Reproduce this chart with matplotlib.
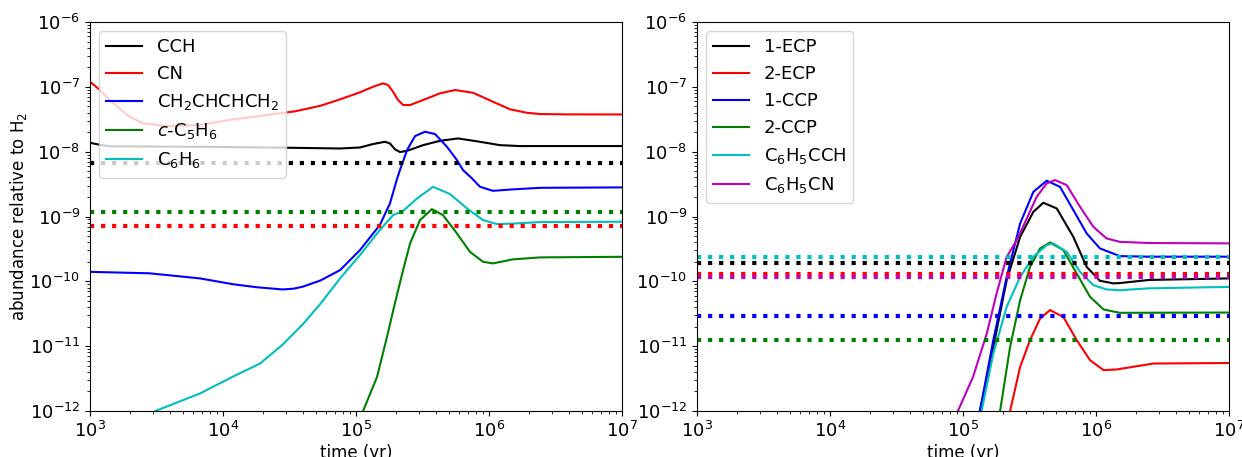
import matplotlib
matplotlib.use("Agg")
import matplotlib.pyplot as plt

# ---- left panel: model abundances (time in yr, abundance rel. to H2) ----
cch_t = [1e3, 1.2e3, 1.4e3, 3e3, 1e4, 3e4, 7.6e4, 1.07e5, 1.34e5, 1.65e5, 1.8e5,
         1.96e5, 2.14e5, 2.42e5, 3.19e5, 4.28e5, 5.85e5, 8.56e5, 1.21e6, 1.71e6,
         3e6, 1e7]
cch_y = [1.37e-8, 1.27e-8, 1.21e-8, 1.2e-8, 1.18e-8, 1.15e-8, 1.12e-8, 1.16e-8,
         1.31e-8, 1.42e-8, 1.34e-8, 1.09e-8, 9.87e-9, 1.03e-8, 1.26e-8, 1.47e-8,
         1.6e-8, 1.42e-8, 1.26e-8, 1.22e-8, 1.22e-8, 1.22e-8]

cn_t = [1e3, 1.19e3, 1.41e3, 1.9e3, 2.5e3, 3.8e3, 6.7e3, 1.19e4, 2.14e4, 3.5e4,
        5.4e4, 7.59e4, 1.07e5, 1.34e5, 1.59e5, 1.74e5, 1.9e5, 2.07e5, 2.26e5,
        2.55e5, 3.19e5, 4.28e5, 5.55e5, 7.58e5, 1.07e6, 1.44e6, 1.93e6, 2.42e6,
        4e6, 1e7]
cn_y = [1.2e-7, 8.9e-8, 6.25e-8, 3.67e-8, 2.73e-8, 2.48e-8, 2.58e-8, 3.15e-8,
        3.67e-8, 4.2e-8, 5.1e-8, 6.41e-8, 8.22e-8, 1.0e-7, 1.13e-7, 1.07e-7,
        8.4e-8, 6.25e-8, 5.24e-8, 5.24e-8, 6.25e-8, 7.94e-8, 8.93e-8, 8.11e-8,
        5.89e-8, 4.5e-8, 3.98e-8, 3.8e-8, 3.76e-8, 3.75e-8]

butad_t = [1e3, 2.8e3, 6.7e3, 1.2e4, 1.8e4, 2.8e4, 3.4e4, 4.0e4, 5.4e4, 7.59e4,
           1.07e5, 1.51e5, 1.8e5, 2.03e5, 2.14e5, 2.42e5, 2.78e5, 3.3e5, 3.93e5,
           4.83e5, 5.74e5, 6.38e5, 7.45e5, 8.56e5, 1.07e6, 1.51e6, 2.42e6, 1e7]
butad_y = [1.4e-10, 1.33e-10, 1.11e-10, 9.0e-11, 8.1e-11, 7.5e-11, 7.7e-11,
           8.3e-11, 1.03e-10, 1.49e-10, 3.03e-10, 7.36e-10, 1.59e-9, 3.74e-9,
           5.2e-9, 1.06e-8, 1.74e-8, 2.03e-8, 1.87e-8, 1.19e-8, 7.41e-9, 5.2e-9,
           3.87e-9, 2.87e-9, 2.49e-9, 2.62e-9, 2.77e-9, 2.81e-9]

c5h6_t = [1.13e5, 1.44e5, 1.71e5, 1.96e5, 2.26e5, 2.55e5, 3.03e5, 3.72e5, 4.51e5,
          5.74e5, 7.19e5, 9.02e5, 1.07e6, 1.51e6, 2.42e6, 1e7]
c5h6_y = [1.0e-12, 3.36e-12, 1.39e-11, 4.56e-11, 1.49e-10, 3.85e-10, 8.8e-10,
          1.3e-9, 1.05e-9, 5.48e-10, 2.85e-10, 2.0e-10, 1.89e-10, 2.18e-10,
          2.34e-10, 2.39e-10]

c6h6_t = [3.1e3, 6.7e3, 1.19e4, 1.9e4, 2.8e4, 4.0e4, 5.4e4, 7.59e4, 1.07e5,
          1.51e5, 1.9e5, 2.26e5, 2.88e5, 3.8e5, 5.09e5, 6.84e5, 9.02e5, 1.15e6,
          1.62e6, 2.42e6, 1e7]
c6h6_y = [1.0e-12, 1.86e-12, 3.4e-12, 5.4e-12, 1.05e-11, 2.2e-11, 4.5e-11,
          1.11e-10, 2.54e-10, 6.17e-10, 1.05e-9, 1.22e-9, 1.9e-9, 2.87e-9,
          2.22e-9, 1.33e-9, 8.8e-10, 7.63e-10, 7.83e-10, 8.2e-10, 8.3e-10]

left_labels = ["CCH", "CN", r"CH$_2$CHCHCH$_2$", r"$c$-C$_5$H$_6$", r"C$_6$H$_6$"]
left_colors = ["k", "r", "b", "g", "c"]
# observed values (dotted)
left_obs = [6.8e-9, 1.16e-9, 7.1e-10]
left_obs_colors = ["k", "g", "r"]

# ---- right panel ----
ecp1_t = [1.34e5, 1.69e5, 2.13e5, 2.69e5, 3.38e5, 4.02e5, 5.07e5, 6.75e5, 8.51e5,
          1.07e6, 1.35e6, 1.51e6, 2.5e6, 1e7]
ecp1_y = [1.0e-12, 9.75e-12, 1.04e-10, 4.86e-10, 1.18e-9, 1.63e-9, 1.33e-9,
          4.86e-10, 1.67e-10, 1.02e-10, 9.3e-11, 9.4e-11, 1.05e-10, 1.11e-10]

ecp2_t = [2.26e5, 2.69e5, 3.19e5, 3.8e5, 4.51e5, 5.68e5, 7.16e5, 9.02e5, 1.14e6,
          1.43e6, 2.7e6, 1e7]
ecp2_y = [1.0e-12, 4.8e-12, 1.24e-11, 2.67e-11, 3.6e-11, 2.83e-11, 1.24e-11,
          6.08e-12, 4.27e-12, 4.37e-12, 5.4e-12, 5.5e-12]

ccp1_t = [1.34e5, 1.69e5, 2.13e5, 2.69e5, 3.38e5, 4.26e5, 5.36e5, 6.75e5, 8.51e5,
          1.07e6, 1.51e6, 2.5e6, 1e7]
ccp1_y = [1.0e-12, 1.24e-11, 1.17e-10, 7.83e-10, 2.4e-9, 3.56e-9, 2.87e-9,
          1.26e-9, 5.48e-10, 3.22e-10, 2.45e-10, 2.4e-10, 2.4e-10]

ccp2_t = [1.9e5, 2.26e5, 2.69e5, 3.19e5, 3.8e5, 4.51e5, 5.68e5, 7.16e5, 9.02e5,
          1.14e6, 1.51e6, 1e7]
ccp2_y = [1.0e-12, 9.75e-12, 5.13e-11, 1.67e-10, 3.22e-10, 3.98e-10, 3.03e-10,
          1.32e-10, 5.77e-11, 3.68e-11, 3.27e-11, 3.3e-11]

phcch_t = [1.38e5, 1.69e5, 2.13e5, 2.69e5, 3.38e5, 4.26e5, 4.78e5, 6.02e5, 7.59e5,
           9.55e5, 1.2e6, 1.51e6, 2.5e6, 1e7]
phcch_y = [1.0e-12, 7.7e-12, 4.04e-11, 1.17e-10, 2.39e-10, 3.62e-10, 3.85e-10,
           2.85e-10, 1.4e-10, 8.73e-11, 7.5e-11, 7.3e-11, 7.8e-11, 8.2e-11]

phcn_t = [9.16e4, 1.19e5, 1.51e5, 1.79e5, 2.13e5, 2.54e5, 3.02e5, 3.58e5, 4.26e5,
          4.92e5, 6.02e5, 7.59e5, 9.55e5, 1.2e6, 1.51e6, 2.5e6, 1e7]
phcn_y = [1.0e-12, 3.36e-12, 1.57e-11, 6.5e-11, 2.39e-10, 4.33e-10, 9.35e-10,
          2.01e-9, 3.24e-9, 3.65e-9, 3.05e-9, 1.41e-9, 6.93e-10, 4.59e-10,
          4.07e-10, 3.9e-10, 3.85e-10]

right_labels = ["1-ECP", "2-ECP", "1-CCP", "2-CCP", r"C$_6$H$_5$CCH", r"C$_6$H$_5$CN"]
right_colors = ["k", "r", "b", "g", "c", "m"]
right_obs = [1.89e-10, 1.32e-10, 2.97e-11, 1.24e-11, 2.39e-10, 1.15e-10]

left_series = [(cch_t, cch_y), (cn_t, cn_y), (butad_t, butad_y),
               (c5h6_t, c5h6_y), (c6h6_t, c6h6_y)]
right_series = [(ecp1_t, ecp1_y), (ecp2_t, ecp2_y), (ccp1_t, ccp1_y),
                (ccp2_t, ccp2_y), (phcch_t, phcch_y), (phcn_t, phcn_y)]

fig = plt.figure(figsize=(12.42, 4.57), dpi=100)
ax1 = fig.add_axes([90 / 1242, 1 - 411 / 457, 532 / 1242, 389 / 457])
ax2 = fig.add_axes([697 / 1242, 1 - 411 / 457, 532 / 1242, 389 / 457])

for (t, y), lab, c in zip(left_series, left_labels, left_colors):
    ax1.plot(t, y, color=c, lw=1.5, label=lab)
for v, c in zip(left_obs, left_obs_colors):
    ax1.axhline(v, color=c, ls=":", lw=3)

for (t, y), lab, c in zip(right_series, right_labels, right_colors):
    ax2.plot(t, y, color=c, lw=1.5, label=lab)
for v, c in zip(right_obs, right_colors):
    ax2.axhline(v, color=c, ls=":", lw=3)

for ax in (ax1, ax2):
    ax.set_xscale("log")
    ax.set_yscale("log")
    ax.set_xlim(1e3, 1e7)
    ax.set_ylim(1e-12, 1e-6)
    ax.tick_params(labelsize=13)
    ax.set_xlabel("time (yr)", fontsize=12, labelpad=2)
    ax.legend(loc="upper left", fontsize=13)

ax1.set_ylabel("abundance relative to H$_2$", fontsize=12, labelpad=0)

fig.savefig("out.png", dpi=100)
